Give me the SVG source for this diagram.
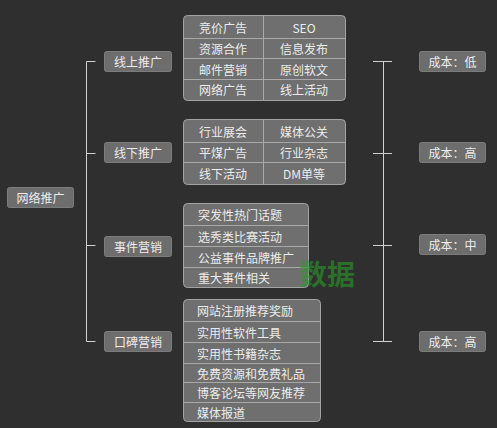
<svg xmlns="http://www.w3.org/2000/svg" width="497" height="428" viewBox="0 0 497 428">
<style>
.bg{fill:#2f2f2f}
.node{fill:#6d6d6d;stroke:#7c7c7c;stroke-width:1}
.tbl{fill:#6f6f6f;stroke:#a3a3a3;stroke-width:1}
.sep{stroke:#a8a8a8;stroke-width:1;fill:none}
.ln{stroke:#d0d0d0;stroke-width:1;fill:none}
text{font-family:"Microsoft YaHei","Noto Sans CJK SC","Noto Sans",sans-serif;font-size:12px;fill:#ececec;text-anchor:middle;dominant-baseline:central}
.l{text-anchor:start}
.wm{font-size:28px;font-weight:bold;fill:#2a9a2a;opacity:0.6;text-anchor:start}
</style>
<rect class="bg" x="0" y="0" width="497" height="428"/>
<g id="connectors">
<path class="ln" d="M95.5,61.5H86.5V341.5H95.5M86.5,153.5H95.5M86.5,245.5H95.5"/>
<path class="ln" d="M383.5,61.5V341.5M373,61.5H392M373,153.5H392M373,245.5H392M373,341.5H392"/>
</g>
<g id="root"><rect class="node" x="7.5" y="187.5" width="66" height="20" rx="2"/><text x="40.5" y="197.5">网络推广</text></g>
<g id="n-online"><rect class="node" x="104.5" y="51.5" width="67" height="20" rx="2"/><text x="138" y="61.5">线上推广</text></g>
<g id="n-offline"><rect class="node" x="104.5" y="142.5" width="67" height="20" rx="2"/><text x="138" y="152.5">线下推广</text></g>
<g id="n-event"><rect class="node" x="104.5" y="236.5" width="67" height="20" rx="2"/><text x="138" y="246.5">事件营销</text></g>
<g id="n-wom"><rect class="node" x="104.5" y="331.5" width="67" height="20" rx="2"/><text x="138" y="341.5">口碑营销</text></g>
<g id="t-online">
<rect class="tbl" x="183.5" y="15.5" width="162" height="85" rx="4"/>
<path class="sep" d="M184,38.5H345M184,58.5H345M184,79.5H345M263.5,16V100"/>
<text x="223" y="27">竞价广告</text><text x="304" y="27">SEO</text>
<text x="223" y="48">资源合作</text><text x="304" y="48">信息发布</text>
<text x="223" y="69">邮件营销</text><text x="304" y="69">原创软文</text>
<text x="223" y="89.5">网络广告</text><text x="304" y="89.5">线上活动</text>
</g>
<g id="t-offline">
<rect class="tbl" x="183.5" y="119.5" width="162" height="65" rx="4"/>
<path class="sep" d="M184,142.5H345M184,162.5H345M263.5,120V184"/>
<text x="223" y="131">行业展会</text><text x="304" y="131">媒体公关</text>
<text x="223" y="152.5">平煤广告</text><text x="304" y="152.5">行业杂志</text>
<text x="223" y="173">线下活动</text><text x="304" y="173">DM单等</text>
</g>
<g id="t-event">
<rect class="tbl" x="183.5" y="203.5" width="125" height="84" rx="4"/>
<path class="sep" d="M184,225.5H308M184,246.5H308M184,267.5H308"/>
<text class="l" x="198" y="214.5">突发性热门话题</text>
<text class="l" x="198" y="236">选秀类比赛活动</text>
<text class="l" x="198" y="257">公益事件品牌推广</text>
<text class="l" x="198" y="277.5">重大事件相关</text>
</g>
<g id="t-wom">
<rect class="tbl" x="183.5" y="299.5" width="137" height="122" rx="4"/>
<path class="sep" d="M184,321.5H320M184,342.5H320M184,363.5H320M184,382.5H320M184,402.5H320"/>
<text class="l" x="197" y="310.5">网站注册推荐奖励</text>
<text class="l" x="197" y="332">实用性软件工具</text>
<text class="l" x="197" y="353">实用性书籍杂志</text>
<text class="l" x="197" y="373">免费资源和免费礼品</text>
<text class="l" x="197" y="392.5">博客论坛等网友推荐</text>
<text class="l" x="197" y="412">媒体报道</text>
</g>
<g id="c-low"><rect class="node" x="419.5" y="51.5" width="66" height="20" rx="2"/><text x="452.5" y="61.5">成本：低</text></g>
<g id="c-high1"><rect class="node" x="419.5" y="142.5" width="66" height="20" rx="2"/><text x="452.5" y="152.5">成本：高</text></g>
<g id="c-mid"><rect class="node" x="419.5" y="234.5" width="66" height="20" rx="2"/><text x="452.5" y="244.5">成本：中</text></g>
<g id="c-high2"><rect class="node" x="419.5" y="331.5" width="66" height="20" rx="2"/><text x="452.5" y="341.5">成本：高</text></g>
<text class="wm" x="299" y="273">数据</text>
</svg>
